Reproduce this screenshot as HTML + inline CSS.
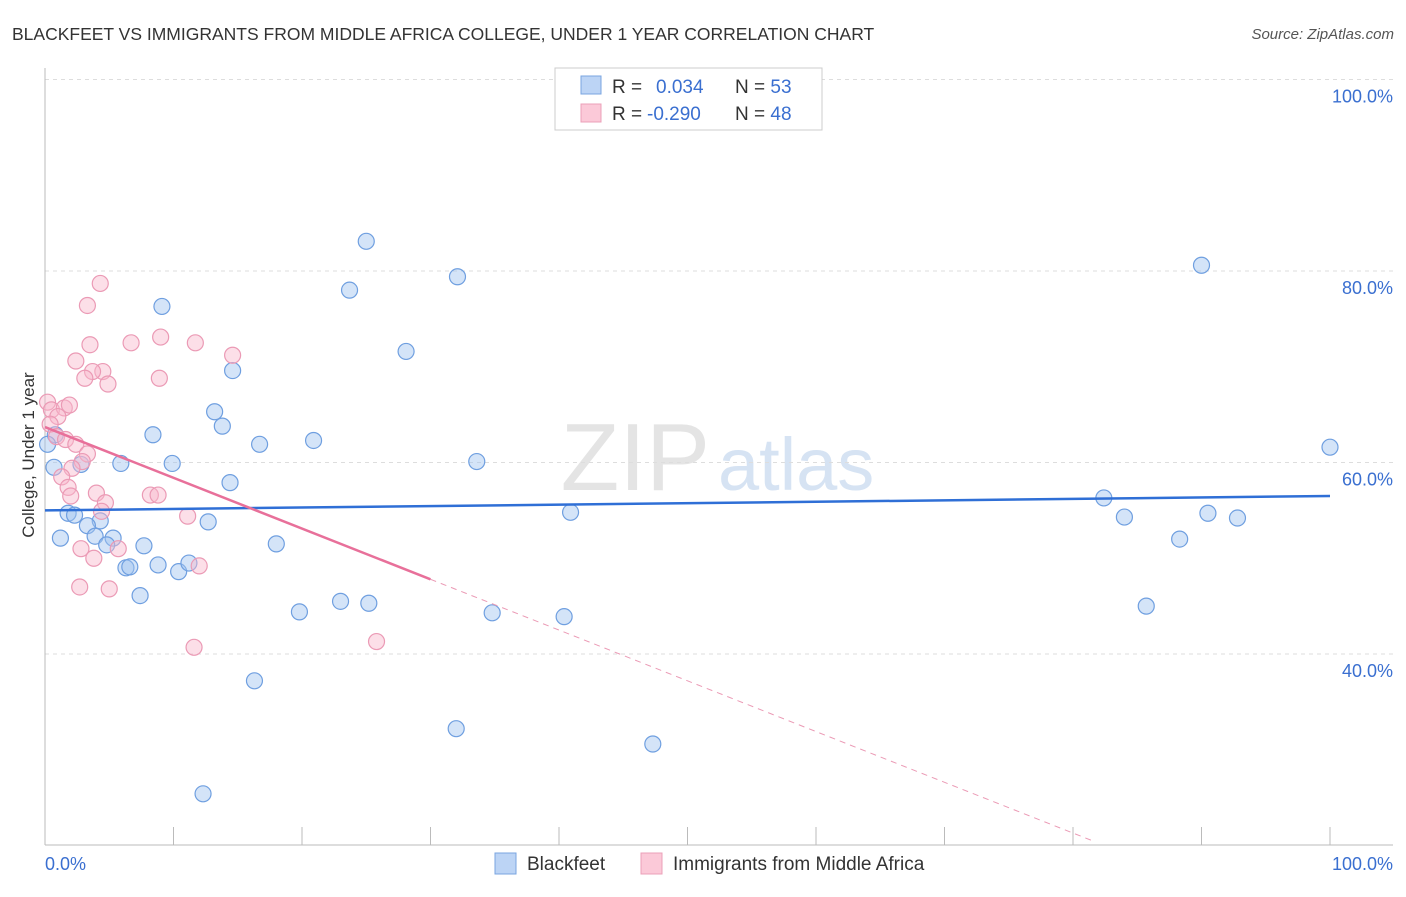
<!DOCTYPE html>
<html><head><meta charset="utf-8"><style>
body{margin:0;background:#fff;font-family:"Liberation Sans",sans-serif}
svg text{font-family:"Liberation Sans",sans-serif}
</style></head><body>
<svg width="1406" height="892">
<text x="12" y="40" font-size="17.5" fill="#333">BLACKFEET VS IMMIGRANTS FROM MIDDLE AFRICA COLLEGE, UNDER 1 YEAR CORRELATION CHART</text>
<text x="1394" y="39" font-size="15" fill="#555" text-anchor="end" font-style="italic">Source: ZipAtlas.com</text>
<text x="710" y="490" font-size="96" fill="#e4e4e4" text-anchor="end" font-family="Liberation Serif">ZIP</text>
<text x="718" y="490" font-size="74" fill="#d6e3f3">atlas</text>
<g id="grid"></g>
<g id="axes"></g>
<g id="marks"></g>
<text x="34" y="455" font-size="17" fill="#333" text-anchor="middle" transform="rotate(-90 34 455)">College, Under 1 year</text>
<text x="45" y="870" font-size="18" fill="#3a6fd0">0.0%</text>
<text x="1393" y="870" font-size="18" fill="#3a6fd0" text-anchor="end">100.0%</text>
<g>
<rect x="555" y="68" width="267" height="62" fill="#fff" stroke="#ccc"/>
<rect x="581" y="76" width="20" height="18" fill="#bcd4f5" stroke="#7aa5e0"/>
<rect x="581" y="104" width="20" height="18" fill="#fbc9d8" stroke="#eba0b8"/>
<text x="612" y="93" font-size="19" fill="#333">R = <tspan fill="#3a6fd0" x="656">0.034</tspan><tspan x="735" fill="#333">N = </tspan><tspan fill="#3a6fd0">53</tspan></text>
<text x="612" y="120" font-size="19" fill="#333">R = <tspan fill="#3a6fd0" x="647">-0.290</tspan><tspan x="735" fill="#333">N = </tspan><tspan fill="#3a6fd0">48</tspan></text>
</g>
<g>
<rect x="495" y="853" width="21" height="21" fill="#bcd4f5" stroke="#7aa5e0"/>
<text x="527" y="870" font-size="19" fill="#333">Blackfeet</text>
<rect x="641" y="853" width="21" height="21" fill="#fbc9d8" stroke="#eba0b8"/>
<text x="673" y="870" font-size="19" fill="#333">Immigrants from Middle Africa</text>
</g>
</svg>
<script>
const yTicks=[40,60,80,100];
const yTickLabels=["40.0%","60.0%","80.0%","100.0%"];
const xTicks=[0,10,20,30,40,50,60,70,80,90,100];
const blueX=[25.0,32.1,23.7,9.1,28.1,14.6,13.2,13.8,8.4,16.7,20.9,0.8,0.2,5.9,9.9,33.6,2.8,0.7,14.4,90.0,100,82.4,84.0,88.3,90.5,92.8,85.7,40.9,1.8,2.3,4.3,3.3,12.7,1.2,3.9,5.3,4.8,7.7,18.0,6.3,6.6,8.8,10.4,11.2,7.4,19.8,23.0,25.2,34.8,40.4,16.3,32.0,47.3,12.3];
const blueY=[83.1,79.4,78.0,76.3,71.6,69.6,65.3,63.8,62.9,61.9,62.3,62.9,61.9,59.9,59.9,60.1,59.8,59.5,57.9,80.6,61.6,56.3,54.3,52.0,54.7,54.2,45.0,54.8,54.7,54.5,53.9,53.4,53.8,52.1,52.3,52.1,51.4,51.3,51.5,49.0,49.1,49.3,48.6,49.5,46.1,44.4,45.5,45.3,44.3,43.9,37.2,32.2,30.6,25.4];
const pinkX=[4.3,3.3,6.7,9.0,11.7,14.6,3.5,2.4,4.5,3.7,3.1,4.9,8.9,0.2,0.5,1.5,1.9,1.0,0.4,0.9,1.6,2.4,3.3,2.9,2.1,1.3,1.8,2.0,4.0,4.7,4.4,8.2,8.8,11.1,5.7,2.8,3.8,12.0,2.7,5.0,11.6,25.8];
const pinkY=[78.7,76.4,72.5,73.1,72.5,71.2,72.3,70.6,69.5,69.5,68.8,68.2,68.8,66.3,65.5,65.7,66.0,64.8,64.0,62.7,62.4,61.9,60.9,60.1,59.4,58.5,57.4,56.5,56.8,55.8,54.9,56.6,56.6,54.4,51.0,51.0,50.0,49.2,47.0,46.8,40.7,41.3];
const blueTrend=[55.0,56.5];
const pinkTrend=[63.7,-0.53];
const NS="http://www.w3.org/2000/svg";
const sx=v=>45+v*12.85, sy=v=>79.5+(100-v)*9.575;
function mk(t,a,p){const e=document.createElementNS(NS,t);for(const k in a)e.setAttribute(k,a[k]);p.appendChild(e);return e;}
const grid=document.getElementById('grid'),axes=document.getElementById('axes'),marks=document.getElementById('marks');
yTicks.forEach((v,i)=>{
 const l=mk('line',{x1:45,x2:1393,y1:sy(v),y2:sy(v),stroke:'#ddd','stroke-dasharray':'4,4'},grid);
 
 
 const t=mk('text',{x:1393,y:sy(v)+23,'font-size':18,fill:'#3a6fd0','text-anchor':'end'},axes);
 t.textContent=yTickLabels[i];
 
 
});
mk('line',{x1:45,x2:45,y1:68,y2:845,stroke:'#bbb'},axes);
mk('line',{x1:45,x2:1393,y1:845,y2:845,stroke:'#bbb'},axes);
xTicks.forEach(v=>{const l=mk('line',{x1:sx(v),x2:sx(v),y1:827,y2:845,stroke:'#bbb'},axes);
 
 });
blueX.forEach((x,i)=>{const c=mk('circle',{cx:sx(x),cy:sy(blueY[i]),r:8,fill:'rgba(160,195,240,0.45)',stroke:'#6f9fe0','stroke-width':1.2},marks);
 
 });
pinkX.forEach((x,i)=>{const c=mk('circle',{cx:sx(x),cy:sy(pinkY[i]),r:8,fill:'rgba(248,185,205,0.45)',stroke:'#eb9ab5','stroke-width':1.2},marks);
 
 });
const bl=mk('line',{x1:sx(0),y1:sy(blueTrend[0]),x2:sx(100),y2:sy(blueTrend[1]),stroke:'#2f6fd6','stroke-width':2.5},marks);


const pf=x=>pinkTrend[0]+pinkTrend[1]*x;
const pl=mk('line',{x1:sx(0),y1:sy(pf(0)),x2:sx(30),y2:sy(pf(30)),stroke:'#e8709a','stroke-width':2.5},marks);


const xe=(pinkTrend[0]-20.5)/-pinkTrend[1];
const pd=mk('line',{x1:sx(30),y1:sy(pf(30)),x2:sx(xe),y2:sy(pf(xe)),stroke:'#eb9ab5','stroke-width':1,'stroke-dasharray':'6,5'},marks);


</script>
</body></html>
